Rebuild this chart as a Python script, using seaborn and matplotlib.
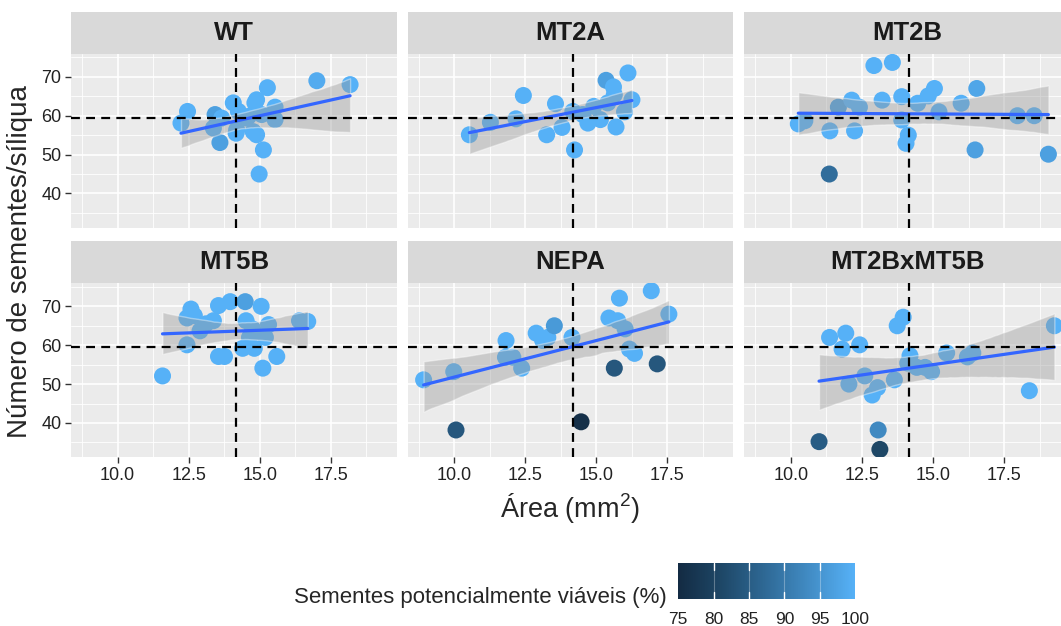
import numpy as np
import pandas as pd
import matplotlib
matplotlib.use('Agg')
import matplotlib.pyplot as plt
from matplotlib.colors import LinearSegmentedColormap, Normalize
import seaborn as sns

# =====================================================================
# Data
# =====================================================================
genotypes = ['WT', 'MT2A', 'MT2B', 'MT5B', 'NEPA', 'MT2BxMT5B']

area_wt = [12.23, 12.46, 13.43, 13.66, 13.37, 13.60, 14.07, 14.25, 14.17, 14.19, 14.54, 14.60,
           14.83, 14.89, 14.77, 14.89, 15.13, 14.98, 15.27, 15.54, 15.54, 15.07, 17.01, 18.18]
seeds_wt = [58.1, 61.1, 60.3, 59.4, 56.8, 53.1, 63.3, 61.1, 55.5, 56.4, 59.4, 59.8,
            63.3, 64.1, 55.9, 55.1, 51.2, 45.0, 67.2, 62.2, 59.0, 60.3, 69.0, 68.0]
viab_wt = [100, 100, 97, 100, 100, 97, 100, 100, 100, 100, 100, 100,
           100, 100, 100, 100, 100, 100, 100, 100, 100, 100, 99, 100]

area_mt2a = [10.53, 11.27, 12.17, 12.43, 13.25, 13.79, 13.56, 14.23, 14.17, 14.70, 14.91,
             15.14, 14.52, 15.34, 15.60, 15.40, 15.69, 15.99, 16.11, 16.25, 15.63]
seeds_mt2a = [55.1, 58.3, 59.2, 65.2, 55.1, 57.0, 63.1, 51.2, 61.1, 58.1, 62.4,
              59.0, 60.3, 69.1, 67.4, 63.3, 57.1, 61.0, 71.0, 64.1, 65.4]
viab_mt2a = [100, 100, 100, 100, 100, 100, 100, 100, 100, 100, 100,
             100, 100, 97, 100, 100, 100, 100, 100, 100, 100]

area_mt2b = [10.26, 10.49, 11.37, 11.35, 11.67, 12.14, 12.41, 12.24, 12.92, 13.57, 13.21, 13.90,
             13.90, 14.13, 14.05, 14.46, 14.83, 15.05, 15.21, 15.99, 16.54, 16.48, 17.97, 18.56, 19.06]
seeds_mt2b = [57.9, 58.7, 56.1, 45.0, 62.2, 64.0, 62.2, 56.1, 72.9, 73.7, 64.0, 64.9,
              58.9, 55.0, 52.9, 63.2, 65.1, 67.0, 61.0, 63.2, 67.0, 51.2, 60.0, 60.0, 50.1]
viab_mt2b = [100, 100, 100, 88, 97, 100, 100, 100, 100, 100, 100, 100,
             100, 100, 100, 100, 100, 100, 100, 100, 98, 97, 100, 100, 97]

area_mt5b = [11.58, 12.44, 12.58, 12.70, 12.44, 12.90, 13.11, 13.37, 13.55, 13.55, 13.76, 13.96, 14.40,
             14.49, 14.52, 14.64, 14.81, 14.75, 15.05, 15.11, 15.20, 15.31, 15.60, 16.40, 16.69]
seeds_mt5b = [52.1, 67.0, 69.3, 67.6, 60.1, 63.7, 65.5, 66.3, 70.2, 57.1, 57.1, 71.2, 59.2,
              71.2, 66.3, 62.0, 59.2, 64.2, 70.0, 54.1, 62.0, 65.3, 57.1, 66.3, 66.1]
viab_mt5b = [100, 100, 100, 100, 100, 100, 100, 100, 100, 100, 100, 100, 100,
             97, 100, 100, 100, 100, 100, 100, 100, 100, 100, 100, 100]

area_nepa = [8.92, 9.98, 10.06, 11.82, 11.80, 12.06, 12.37, 12.88, 13.11, 13.29, 13.52, 14.14,
             14.46, 15.44, 15.63, 15.75, 15.81, 16.01, 16.16, 16.34, 16.93, 17.14, 17.55]
seeds_nepa = [51.1, 53.2, 38.2, 61.2, 56.9, 56.9, 54.1, 63.1, 61.2, 62.0, 65.0, 62.0,
              40.3, 67.0, 54.1, 66.3, 72.1, 64.2, 59.0, 57.9, 74.0, 55.2, 68.0]
viab_nepa = [100, 100, 84, 100, 100, 100, 100, 100, 100, 100, 96, 100,
             76, 100, 84, 100, 100, 100, 100, 100, 100, 84, 100]

area_cross = [10.99, 11.36, 11.80, 11.93, 12.04, 12.42, 12.60, 12.86, 13.05, 13.07, 13.13, 13.64,
              13.74, 13.95, 14.11, 14.19, 14.43, 14.72, 14.95, 15.48, 16.21, 16.40, 18.39, 19.27]
seeds_cross = [35.2, 62.0, 59.0, 63.1, 50.0, 60.1, 52.1, 47.2, 49.1, 38.2, 33.2, 51.1,
               65.0, 67.2, 55.4, 57.3, 54.3, 54.3, 53.2, 58.0, 57.0, 58.0, 48.3, 65.0]
viab_cross = [85, 100, 100, 100, 100, 100, 100, 100, 100, 93, 81, 100,
              100, 100, 100, 100, 100, 100, 100, 100, 100, 100, 100, 100]

# reference lines (overall means)
mean_area = 14.17
mean_seeds = 59.5

legend_ticks = [75, 80, 85, 90, 95, 100]

areas = [area_wt, area_mt2a, area_mt2b, area_mt5b, area_nepa, area_cross]
seeds = [seeds_wt, seeds_mt2a, seeds_mt2b, seeds_mt5b, seeds_nepa, seeds_cross]
viabs = [viab_wt, viab_mt2a, viab_mt2b, viab_mt5b, viab_nepa, viab_cross]

df = pd.concat([pd.DataFrame({'genotype': g, 'area': a, 'seeds': s, 'viab': v})
                for g, a, s, v in zip(genotypes, areas, seeds, viabs)], ignore_index=True)

# =====================================================================
# Style
# =====================================================================
sns.set_style('darkgrid', {'axes.facecolor': '#EBEBEB', 'grid.color': 'white'})
plt.rcParams['font.family'] = ['Liberation Sans', 'DejaVu Sans']
plt.rcParams['mathtext.fontset'] = 'custom'
plt.rcParams['mathtext.rm'] = 'Liberation Sans'
plt.rcParams['mathtext.it'] = 'Liberation Sans:italic'

# ggplot default continuous colour scale
cmap = LinearSegmentedColormap.from_list(
    'gg', ['#132B43', '#1E4868', '#2F6A97', '#428DC6', '#56B1F7'])
norm = Normalize(75, 100)

W, H = 1061, 626


def px_box(left, top, width, height):
    return [left / W, 1 - (top + height) / H, width / W, height / H]


fig = plt.figure(figsize=(W / 100, H / 100), dpi=100)

col_left = [71, 407.7, 744.3]
row_top = [53.5, 283]
pw, ph, sh = 325.7, 174.2, 42

for i, g in enumerate(genotypes):
    r, c = divmod(i, 3)
    ax = fig.add_axes(px_box(col_left[c], row_top[r], pw, ph))
    sub = df[df['genotype'] == g]

    sns.scatterplot(data=sub, x='area', y='seeds', hue='viab', palette=cmap, hue_norm=(75, 100),
                    s=150, linewidth=0, legend=False, ax=ax)
    sns.regplot(data=sub, x='area', y='seeds', scatter=False, ci=95, n_boot=1000, seed=3,
                color='#3366FF', line_kws={'lw': 2.3}, ax=ax)
    band = ax.collections[-1]
    band.set_facecolor('#999999')
    band.set_alpha(0.4)

    ax.axvline(mean_area, color='black', ls=(0, (4, 2.8)), lw=1.6, zorder=3)
    ax.axhline(mean_seeds, color='black', ls=(0, (4, 2.8)), lw=1.6, zorder=3)

    ax.set_xlim(8.36, 19.82)
    ax.set_ylim(31.2, 76.0)
    ax.set_xticks([10, 12.5, 15, 17.5])
    ax.set_xticks([8.75, 11.25, 13.75, 16.25, 18.75], minor=True)
    ax.set_yticks([40, 50, 60, 70])
    ax.set_yticks([35, 45, 55, 65, 75], minor=True)
    ax.set_xticklabels(['10.0', '12.5', '15.0', '17.5'])
    ax.grid(which='major', color='white', lw=1.2)
    ax.grid(which='minor', color='white', lw=0.6)
    ax.set_axisbelow(True)
    for sp in ax.spines.values():
        sp.set_visible(False)
    ax.set_xlabel('')
    ax.set_ylabel('')
    ax.tick_params(which='minor', length=0)
    ax.tick_params(which='major', length=4, width=1, color='#333333', labelsize=13,
                   labelcolor='#222222', pad=3)
    ax.tick_params(axis='x', bottom=(r == 1), labelbottom=(r == 1))
    ax.tick_params(axis='y', left=(c == 0), labelleft=(c == 0))

    # strip
    sax = fig.add_axes(px_box(col_left[c], row_top[r] - sh, pw, sh))
    sax.set_facecolor('#D9D9D9')
    sax.set_xticks([])
    sax.set_yticks([])
    sax.grid(False)
    for sp in sax.spines.values():
        sp.set_visible(False)
    sax.text(0.5, 0.5, g, ha='center', va='center', fontsize=18.5, fontweight='bold',
             color='#1A1A1A', transform=sax.transAxes)

# axis titles
fig.text(570.5 / W, 1 - 508 / H, 'Área (mm$^{2}$)', ha='center', va='center', fontsize=19.5)
fig.text(20 / W, 1 - 262 / H, 'Número de sementes/síliqua', rotation=90,
         ha='center', va='center', fontsize=20)

# colour bar legend
cax = fig.add_axes(px_box(678.3, 563.3, 176.7, 35.7))
sm = plt.cm.ScalarMappable(norm=norm, cmap=cmap)
cb = fig.colorbar(sm, cax=cax, orientation='horizontal', ticks=legend_ticks)
cb.outline.set_visible(False)
cax.grid(False)
cax.tick_params(length=0, labelsize=12.5, pad=9, labelcolor='#222222')
for v in legend_ticks[1:-1]:
    cax.axvline(v, color='white', lw=0.8, alpha=0.3)
    cax.axvline(v, ymin=0, ymax=0.2, color='white', lw=1)
    cax.axvline(v, ymin=0.8, ymax=1, color='white', lw=1)
fig.text(667 / W, 1 - 598 / H, 'Sementes potencialmente viáveis (%)', ha='right', va='center',
         fontsize=16)

fig.savefig('out.png', dpi=100)
